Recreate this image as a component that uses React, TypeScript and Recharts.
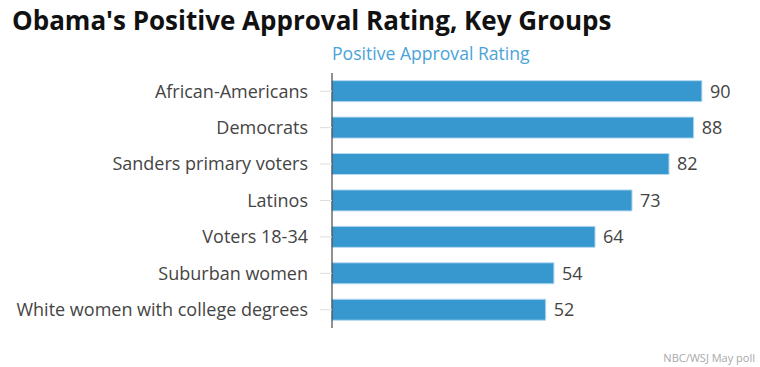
import React from "react";
import { BarChart, Bar, XAxis, YAxis, LabelList } from "recharts";

const categories = [
  "African-Americans",
  "Democrats",
  "Sanders primary voters",
  "Latinos",
  "Voters 18-34",
  "Suburban women",
  "White women with college degrees",
];
const approval = [90, 88, 82, 73, 64, 54, 52];

const data = categories.map((name, i) => ({ name, value: approval[i] }));

const FONT = "'Open Sans', Lato, sans-serif";

export default function App() {
  return (
    <div style={{ position: "absolute", left: 0, top: 0, width: 760, height: 367, background: "#fff", fontFamily: FONT }}>
      <div style={{ position: "absolute", left: 12, top: 2, fontSize: 26, fontWeight: 700, color: "#111", whiteSpace: "nowrap" }}>
        Obama's Positive Approval Rating, Key Groups
      </div>
      <div style={{ position: "absolute", left: 332, top: 41, fontSize: 17.6, color: "#4aa3d9", whiteSpace: "nowrap" }}>
        Positive Approval Rating
      </div>
      <div style={{ position: "absolute", right: 5, top: 350, fontSize: 11, color: "#a8a8a8", whiteSpace: "nowrap" }}>
        NBC/WSJ May poll
      </div>
      <div style={{ position: "absolute", left: 0, top: 0 }}>
        <BarChart
          width={760}
          height={367}
          data={data}
          layout="vertical"
          margin={{ top: 73, right: 17, bottom: 39, left: 0 }}
          barCategoryGap="21%"
        >
          <XAxis type="number" domain={[0, 100]} hide />
          <YAxis
            type="category"
            dataKey="name"
            width={332}
            axisLine={{ stroke: "#222", strokeWidth: 1 }}
            tickLine={{ stroke: "#ddd" }}
            tickSize={12}
            tickMargin={12}
            tick={{ fill: "#444", fontSize: 18, fontFamily: FONT }}
            interval={0}
          />
          <Bar dataKey="value" fill="#3797cf" stroke="#b5d9ef" strokeWidth={1} isAnimationActive={false}>
            <LabelList dataKey="value" position="right" offset={8} fill="#444" fontSize={18} fontFamily={FONT} />
          </Bar>
        </BarChart>
      </div>
    </div>
  );
}
